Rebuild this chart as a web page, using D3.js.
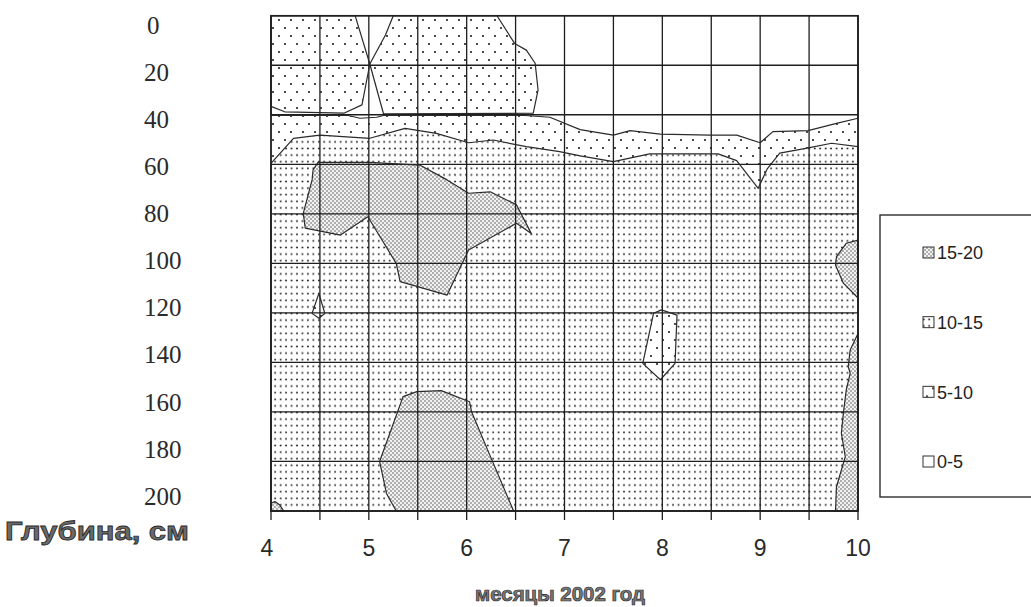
<!DOCTYPE html>
<html><head><meta charset="utf-8">
<script src="https://cdn.jsdelivr.net/npm/d3@7"></script>
<style>body{margin:0;background:#fff}svg{display:block}</style>
</head><body>
<svg id="c" width="1031" height="607"></svg>
<script>
// ---------- data (month, depth cm) ----------
const monthTicks = [4,5,6,7,8,9,10];
const gridMonths = [4,4.5,5,5.5,6,6.5,7,7.5,8,8.5,9,9.5,10];
const depthTicks = [0,20,40,60,80,100,120,140,160,180,200];
const legendLabels = ["15-20","10-15","5-10","0-5"];
const xTitle = "месяцы 2002 год";
const yTitle = "Глубина, см";

// zone 0-5 (white)
const zone0_5 = [
  [[4,0],[10,0],[10,41.4],[9.78,43.5],[9.49,46.4],[9.13,46.8],[9.0,51.3],[8.76,48.2],[8.49,48.2],[7.98,47.8],[7.67,46.4],[7.5,48.2],[7.16,46],[6.85,41],[6.6,40.3],[5.15,40.3],[5.08,41],[4.91,41.4],[4.79,40.3],[4,40.3]]
];
// zone 5-10 islands above depth 40
const zone5_10Top = [
  [[4,0],[4.86,0],[5.01,19.5],[4.93,36],[4.75,39.3],[4.14,38.8],[4,36.6]],
  [[5.25,0],[5.17,7.8],[5.01,19.5],[5.15,39.6],[6.68,39.4],[6.73,30],[6.70,19.2],[6.61,13.9],[6.49,11.2],[6.31,0]]
];
// zone 10-15
const zone10_15 = [
  [[4,59.6],[4.23,49.5],[4.5,48.2],[5.01,49.5],[5.37,45.5],[5.69,47.5],[6.02,51.3],[6.27,50.2],[6.61,52.9],[6.95,54.9],[7.16,56.6],[7.5,58.9],[7.87,55.8],[8.57,55.8],[8.76,58.5],[8.98,69.7],[9.07,62],[9.2,55.5],[9.48,53.5],[9.73,51.5],[10,52.9],[10,200],[4,200]]
];
// zone 5-10 islands inside 10-15
const zone5_10Deep = [
  [[4.49,112.1],[4.55,120.2],[4.49,122.2],[4.42,120.2]],
  [[7.99,118.8],[8.15,120.9],[8.13,140.4],[7.98,147],[7.80,140.4],[7.91,120.2]]
];
// zone 15-20
const zone15_20 = [
  [[4.43,62.3],[4.48,59.2],[5.01,59.2],[5.52,60.3],[5.80,66.3],[6.02,71.7],[6.24,71.1],[6.51,76.4],[6.66,87.9],[6.51,83.8],[6.02,94.6],[5.80,112.8],[5.32,107.4],[5.28,100],[4.99,81.2],[4.71,88.6],[4.35,85.8],[4.33,79.8],[4.42,66.3]],
  [[5.28,200],[5.18,192.9],[5.11,180],[5.35,153.8],[5.49,151.8],[5.74,151.4],[6.03,155.9],[6.05,159.9],[6.20,174],[6.48,200]],
  [[10,90.6],[9.88,91.9],[9.78,97.3],[9.77,100.7],[9.85,108],[10,114]],
  [[10,128.3],[9.92,135],[9.90,141.7],[9.92,144.4],[9.88,151.1],[9.85,160.6],[9.83,168.6],[9.87,178.1],[9.78,190.2],[9.77,200],[10,200]],
  [[4,196.9],[4.04,196.2],[4.09,197.6],[4.13,200],[4,200]]
];

// ---------- drawing ----------
const svg = d3.select("#c");
const x = d3.scaleLinear().domain([4,10]).range([271,858]);
const y = d3.scaleLinear().domain([0,200]).range([15.7,511]);
const yLab = d3.scaleLinear().domain([0,200]).range([25,496]);
const ink = "#1e1e1e";

const defs = svg.append("defs");
function pat(id, w, h, bg, dots, r, col){
  const p = defs.append("pattern").attr("id",id).attr("patternUnits","userSpaceOnUse")
    .attr("width",w).attr("height",h);
  p.append("rect").attr("width",w).attr("height",h).attr("fill",bg);
  dots.forEach(d=>p.append("circle").attr("cx",d[0]).attr("cy",d[1]).attr("r",r).attr("fill",col));
}
pat("p5", 12, 16, "#fff", [[3,4],[9,12]], 1.1, "#222");
pat("p10", 5.45, 6.6, "#fff", [[2.7,3.3]], 1.0, "#2a2a2a");
pat("p15", 4, 4, "#f2f2f2", [[1,1],[3,3]], 0.75, "#4a4a4a");
const fills = {"15-20":"url(#p15)","10-15":"url(#p10)","5-10":"url(#p5)","0-5":"#fff"};

const line = d3.line().x(d=>x(d[0])).y(d=>y(d[1]));
const plot = svg.append("g");

plot.append("rect").attr("x",x(4)).attr("y",y(0)).attr("width",x(10)-x(4)).attr("height",y(200)-y(0))
  .attr("fill",fills["5-10"]);

const layers = [
  [zone0_5, "0-5"],[zone5_10Top,"5-10"],[zone10_15,"10-15"],[zone5_10Deep,"5-10"],[zone15_20,"15-20"]
];
layers.forEach(([polys, lvl])=>{
  plot.selectAll(null).data(polys).enter().append("path")
    .attr("d", d=>line(d)+"Z").attr("fill", fills[lvl]).attr("stroke","none");
});

// grid
plot.selectAll(null).data(gridMonths).enter().append("line")
  .attr("x1",d=>x(d)).attr("x2",d=>x(d)).attr("y1",y(0)).attr("y2",y(200))
  .attr("stroke",ink).attr("stroke-width",1.3);
plot.selectAll(null).data(depthTicks).enter().append("line")
  .attr("x1",x(4)).attr("x2",x(10)).attr("y1",d=>y(d)).attr("y2",d=>y(d))
  .attr("stroke",ink).attr("stroke-width",1.3);

// contour outlines
layers.forEach(([polys])=>{
  plot.selectAll(null).data(polys).enter().append("path")
    .attr("d", d=>line(d)+"Z").attr("fill","none").attr("stroke","#2a2a2a").attr("stroke-width",1.2)
    .attr("stroke-linejoin","round");
});

// border
plot.append("rect").attr("x",x(4)).attr("y",y(0)).attr("width",x(10)-x(4)).attr("height",y(200)-y(0))
  .attr("fill","none").attr("stroke",ink).attr("stroke-width",1.5);

// x axis ticks
svg.selectAll(null).data(gridMonths).enter().append("line")
  .attr("x1",d=>x(d)).attr("x2",d=>x(d)).attr("y1",y(200)).attr("y2",y(200)+9)
  .attr("stroke",ink).attr("stroke-width",1.3);
svg.selectAll(null).data(monthTicks).enter().append("text")
  .attr("x",d=>x(d)-(d===4?4:0)).attr("y",556).attr("text-anchor","middle")
  .attr("font-family","Liberation Sans, Arial, sans-serif").attr("font-size",23).attr("fill","#2a2a2a")
  .text(d=>d);

// y labels
svg.selectAll(null).data(depthTicks).enter().append("text")
  .attr("x",d=>d===0?147:144).attr("y",d=>yLab(d)).attr("dy","0.35em")
  .attr("font-family","Liberation Serif, Times New Roman, serif").attr("font-size",25).attr("fill","#2a2a2a")
  .text(d=>d);

// titles
svg.append("text").attr("x",5).attr("y",540).attr("textLength",184).attr("lengthAdjust","spacingAndGlyphs")
  .attr("font-family","Liberation Sans, Arial, sans-serif").attr("font-weight","bold").attr("font-size",25)
  .attr("fill","#6a6a6a").attr("stroke","#2a2a2a").attr("stroke-width",0.8).text(yTitle);
svg.append("text").attr("x",560).attr("y",601).attr("text-anchor","middle").attr("textLength",170)
  .attr("lengthAdjust","spacingAndGlyphs")
  .attr("font-family","Liberation Sans, Arial, sans-serif").attr("font-weight","bold").attr("font-size",20)
  .attr("fill","#7a7a7a").attr("stroke","#2a2a2a").attr("stroke-width",0.7).text(xTitle);

// legend
const lg = svg.append("g");
lg.append("rect").attr("x",880).attr("y",215).attr("width",170).attr("height",282)
  .attr("fill","#fff").attr("stroke",ink).attr("stroke-width",1.3);
const ly = d3.scalePoint().domain(legendLabels).range([253,462]);
const items = lg.selectAll(null).data(legendLabels).enter().append("g")
  .attr("transform",d=>`translate(0,${ly(d)})`);
items.append("rect").attr("x",923).attr("y",-6).attr("width",11).attr("height",11)
  .attr("fill",d=>fills[d]).attr("stroke","#333").attr("stroke-width",1);
items.append("text").attr("x",937).attr("y",0).attr("dy","0.36em")
  .attr("font-family","Liberation Sans, Arial, sans-serif").attr("font-size",18).attr("fill","#222")
  .text(d=>d);
</script>
</body></html>
